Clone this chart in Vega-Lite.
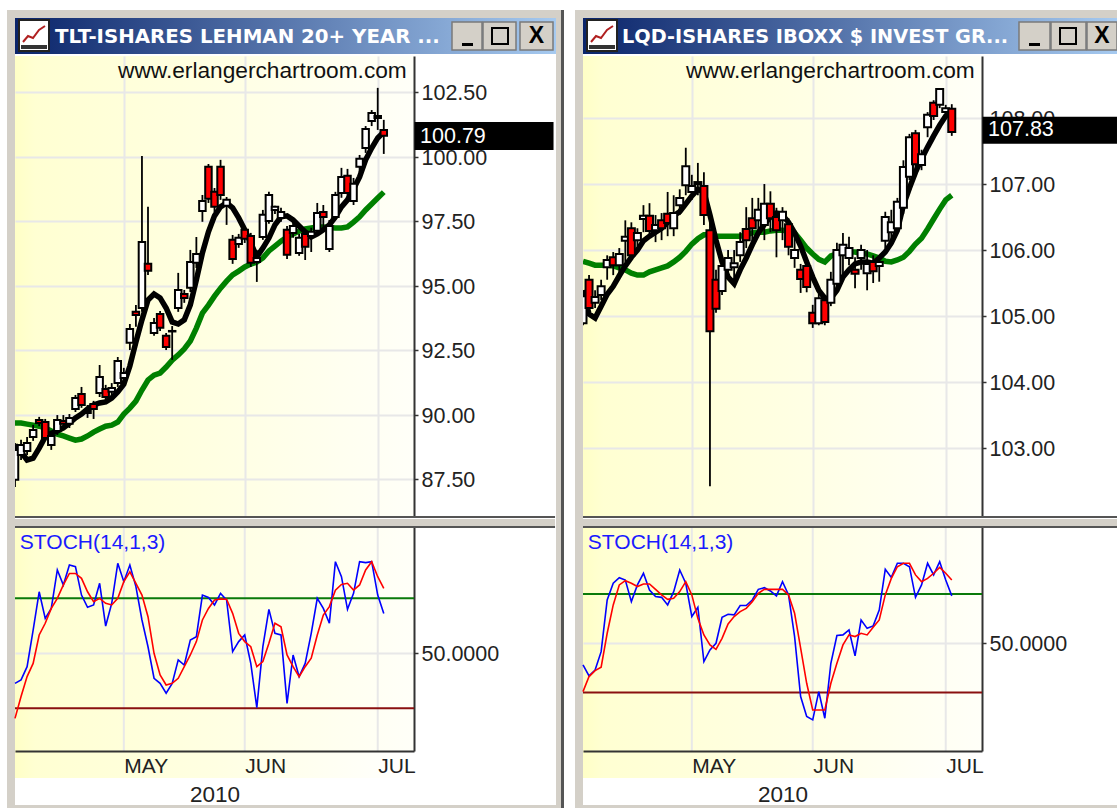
{"$schema":"https://vega.github.io/schema/vega-lite/v6.json","padding":{"left":7,"top":10,"right":0,"bottom":0},"background":"white","bounds":"flush","columns":2,"spacing":{"row":2,"column":28},
"config":{"view":{"stroke":null},"font":"Liberation Sans","text":{"font":"Liberation Sans"},"axis":{"labelFont":"Liberation Sans","titleFont":"Liberation Sans"}},
"datasets":{
"frameL":[{"x0":-8,"x1":0,"y0":-8,"y1":790},{"x0":-8,"x1":546,"y0":-8,"y1":0},{"x0":541,"x1":546,"y0":-8,"y1":790},{"x0":-8,"x1":546,"y0":787,"y1":790}],
"frameR":[{"x0":-8,"x1":0,"y0":-8,"y1":790},{"x0":-8,"x1":534,"y0":-8,"y1":0},{"x0":-8,"x1":534,"y0":787,"y1":790}],
"icon":[{"x":8,"y":24},{"x":13,"y":18},{"x":18,"y":20},{"x":24,"y":12},{"x":30,"y":8}],
"months":[{"n":18},{"n":38},{"n":60}],
"tlt":[
{"n":0,"o":87.47,"c":88.63,"h":88.90,"l":87.19,"f":88.82,"s":89.67},
{"n":1,"o":88.43,"c":88.82,"h":89.02,"l":88.24,"f":88.55,"s":89.67},
{"n":2,"o":88.59,"c":88.90,"h":89.13,"l":88.43,"f":88.24,"s":89.63},
{"n":3,"o":89.13,"c":89.40,"h":89.60,"l":88.98,"f":88.31,"s":89.59},
{"n":4,"o":89.79,"c":89.67,"h":89.91,"l":89.55,"f":88.70,"s":89.55},
{"n":5,"o":89.71,"c":89.09,"h":89.83,"l":88.98,"f":89.13,"s":89.48},
{"n":6,"o":88.82,"c":89.17,"h":89.36,"l":88.63,"f":89.28,"s":89.36},
{"n":7,"o":89.36,"c":89.79,"h":89.98,"l":89.21,"f":89.36,"s":89.24},
{"n":8,"o":89.75,"c":89.64,"h":89.98,"l":89.48,"f":89.48,"s":89.17},
{"n":9,"o":89.64,"c":89.87,"h":90.02,"l":89.48,"f":89.67,"s":89.09},
{"n":10,"o":90.22,"c":90.64,"h":90.76,"l":90.10,"f":89.87,"s":89.01},
{"n":11,"o":90.80,"c":90.37,"h":91.07,"l":90.26,"f":90.02,"s":89.05},
{"n":12,"o":90.14,"c":90.06,"h":90.37,"l":89.87,"f":90.22,"s":89.17},
{"n":13,"o":90.41,"c":90.22,"h":90.53,"l":89.83,"f":90.37,"s":89.32},
{"n":14,"o":90.84,"c":91.46,"h":91.92,"l":90.68,"f":90.45,"s":89.44},
{"n":15,"o":90.99,"c":90.68,"h":91.15,"l":90.57,"f":90.49,"s":89.55},
{"n":16,"o":90.88,"c":91.03,"h":91.22,"l":90.72,"f":90.64,"s":89.59},
{"n":17,"o":91.22,"c":92.08,"h":92.23,"l":91.07,"f":90.88,"s":89.71},
{"n":18,"o":91.42,"c":91.61,"h":91.81,"l":91.26,"f":91.18,"s":90.02},
{"n":19,"o":92.78,"c":93.32,"h":93.51,"l":92.50,"f":91.88,"s":90.25},
{"n":20,"o":93.98,"c":93.86,"h":94.25,"l":93.40,"f":92.81,"s":90.52},
{"n":21,"o":94.13,"c":96.69,"h":100.02,"l":93.98,"f":93.67,"s":90.95},
{"n":22,"o":95.84,"c":95.57,"h":98.05,"l":95.41,"f":94.44,"s":91.34},
{"n":23,"o":93.16,"c":93.55,"h":93.74,"l":93.05,"f":94.67,"s":91.53},
{"n":24,"o":93.90,"c":93.36,"h":94.01,"l":93.24,"f":94.52,"s":91.61},
{"n":25,"o":93.05,"c":92.62,"h":93.16,"l":92.50,"f":94.13,"s":91.84},
{"n":26,"o":93.24,"c":93.22,"h":93.43,"l":92.12,"f":93.59,"s":92.11},
{"n":27,"o":94.13,"c":94.83,"h":95.49,"l":93.98,"f":93.51,"s":92.31},
{"n":28,"o":94.67,"c":94.52,"h":94.83,"l":94.33,"f":93.67,"s":92.54},
{"n":29,"o":94.91,"c":95.91,"h":96.38,"l":94.75,"f":94.25,"s":92.85},
{"n":30,"o":95.88,"c":96.22,"h":96.88,"l":95.68,"f":95.22,"s":93.35},
{"n":31,"o":97.89,"c":98.28,"h":98.51,"l":97.47,"f":96.26,"s":93.93},
{"n":32,"o":99.60,"c":98.36,"h":99.71,"l":98.20,"f":97.08,"s":94.24},
{"n":33,"o":98.63,"c":98.05,"h":98.78,"l":97.85,"f":97.70,"s":94.59},
{"n":34,"o":99.60,"c":98.51,"h":99.87,"l":98.32,"f":98.05,"s":94.90},
{"n":35,"o":98.09,"c":98.32,"h":98.43,"l":97.35,"f":98.20,"s":95.17},
{"n":36,"o":96.77,"c":96.03,"h":96.96,"l":95.84,"f":98.01,"s":95.41},
{"n":37,"o":96.61,"c":96.85,"h":97.00,"l":96.46,"f":97.62,"s":95.56},
{"n":38,"o":97.16,"c":96.81,"h":97.31,"l":96.65,"f":97.16,"s":95.72},
{"n":39,"o":96.92,"c":95.88,"h":97.04,"l":95.72,"f":96.65,"s":95.83},
{"n":40,"o":95.91,"c":96.07,"h":96.38,"l":95.14,"f":96.11,"s":95.91},
{"n":41,"o":96.88,"c":97.74,"h":97.93,"l":96.77,"f":96.45,"s":96.07},
{"n":42,"o":97.50,"c":98.51,"h":98.63,"l":97.39,"f":96.84,"s":96.34},
{"n":43,"o":97.93,"c":98.05,"h":98.09,"l":97.77,"f":97.35,"s":96.53},
{"n":44,"o":97.62,"c":97.85,"h":98.01,"l":97.47,"f":97.66,"s":96.72},
{"n":45,"o":97.16,"c":96.19,"h":97.31,"l":96.03,"f":97.70,"s":96.88},
{"n":46,"o":97.04,"c":97.31,"h":97.47,"l":96.85,"f":97.54,"s":97.00},
{"n":47,"o":96.26,"c":96.85,"h":97.00,"l":96.15,"f":97.31,"s":97.11},
{"n":48,"o":97.00,"c":96.50,"h":97.16,"l":95.99,"f":97.08,"s":97.19},
{"n":49,"o":96.92,"c":97.08,"h":97.24,"l":96.30,"f":96.88,"s":97.23},
{"n":50,"o":97.12,"c":97.81,"h":98.20,"l":96.96,"f":97.00,"s":97.27},
{"n":51,"o":97.85,"c":97.66,"h":98.12,"l":97.16,"f":97.16,"s":97.27},
{"n":52,"o":96.42,"c":97.31,"h":97.54,"l":96.30,"f":97.35,"s":97.25},
{"n":53,"o":97.66,"c":98.51,"h":98.63,"l":97.54,"f":97.66,"s":97.23},
{"n":54,"o":98.59,"c":99.21,"h":99.56,"l":98.40,"f":98.05,"s":97.23},
{"n":55,"o":99.25,"c":98.59,"h":99.52,"l":98.43,"f":98.32,"s":97.27},
{"n":56,"o":98.28,"c":98.94,"h":99.17,"l":98.12,"f":98.74,"s":97.46},
{"n":57,"o":99.60,"c":99.91,"h":100.06,"l":99.40,"f":99.21,"s":97.66},
{"n":58,"o":100.33,"c":101.07,"h":101.18,"l":100.14,"f":99.87,"s":97.93},
{"n":59,"o":101.38,"c":101.69,"h":101.80,"l":101.18,"f":100.33,"s":98.16},
{"n":60,"o":101.49,"c":101.57,"h":102.66,"l":101.03,"f":100.72,"s":98.39},
{"n":61,"o":101.03,"c":100.80,"h":101.42,"l":100.10,"f":100.95,"s":98.62}],
"lqd":[
{"n":0,"o":104.89,"c":105.30,"h":105.39,"l":104.86,"f":105.39,"s":105.83},
{"n":1,"o":105.55,"c":105.12,"h":105.62,"l":105.06,"f":105.03,"s":105.80},
{"n":2,"o":105.20,"c":105.29,"h":105.39,"l":105.12,"f":104.97,"s":105.77},
{"n":3,"o":105.32,"c":105.45,"h":105.55,"l":105.24,"f":105.15,"s":105.77},
{"n":4,"o":105.74,"c":105.85,"h":105.92,"l":105.55,"f":105.33,"s":105.77},
{"n":5,"o":105.89,"c":105.77,"h":105.97,"l":105.62,"f":105.45,"s":105.76},
{"n":6,"o":105.77,"c":105.94,"h":106.03,"l":105.62,"f":105.61,"s":105.73},
{"n":7,"o":106.14,"c":106.20,"h":106.45,"l":105.82,"f":105.76,"s":105.70},
{"n":8,"o":106.33,"c":105.92,"h":106.42,"l":105.88,"f":105.89,"s":105.65},
{"n":9,"o":106.15,"c":106.26,"h":106.33,"l":106.06,"f":106.00,"s":105.62},
{"n":10,"o":106.47,"c":106.52,"h":106.68,"l":106.27,"f":106.14,"s":105.62},
{"n":11,"o":106.52,"c":106.29,"h":106.71,"l":106.23,"f":106.21,"s":105.67},
{"n":12,"o":106.30,"c":106.38,"h":106.53,"l":106.12,"f":106.27,"s":105.70},
{"n":13,"o":106.45,"c":106.33,"h":106.56,"l":106.15,"f":106.33,"s":105.73},
{"n":14,"o":106.55,"c":106.41,"h":106.88,"l":106.21,"f":106.42,"s":105.76},
{"n":15,"o":106.33,"c":106.56,"h":106.83,"l":106.21,"f":106.52,"s":105.82},
{"n":16,"o":106.68,"c":106.79,"h":106.92,"l":106.53,"f":106.58,"s":105.89},
{"n":17,"o":106.98,"c":107.27,"h":107.55,"l":106.83,"f":106.70,"s":105.98},
{"n":18,"o":106.88,"c":106.97,"h":107.14,"l":106.76,"f":106.82,"s":106.09},
{"n":19,"o":107.03,"c":107.00,"h":107.32,"l":106.83,"f":106.92,"s":106.17},
{"n":20,"o":106.97,"c":106.53,"h":107.18,"l":106.38,"f":106.88,"s":106.23},
{"n":21,"o":106.30,"c":104.77,"h":106.45,"l":102.42,"f":106.53,"s":106.23},
{"n":22,"o":105.55,"c":105.11,"h":105.70,"l":105.05,"f":106.15,"s":106.21},
{"n":23,"o":105.38,"c":105.76,"h":105.92,"l":105.32,"f":105.82,"s":106.21},
{"n":24,"o":105.70,"c":105.88,"h":106.00,"l":105.59,"f":105.59,"s":106.21},
{"n":25,"o":105.74,"c":105.80,"h":106.00,"l":105.47,"f":105.49,"s":106.21},
{"n":26,"o":105.92,"c":106.12,"h":106.27,"l":105.82,"f":105.70,"s":106.21},
{"n":27,"o":106.32,"c":106.15,"h":106.65,"l":106.03,"f":105.88,"s":106.23},
{"n":28,"o":106.48,"c":106.33,"h":106.79,"l":106.11,"f":106.08,"s":106.26},
{"n":29,"o":106.45,"c":106.61,"h":106.79,"l":106.23,"f":106.26,"s":106.27},
{"n":30,"o":106.38,"c":106.70,"h":107.00,"l":106.15,"f":106.39,"s":106.27},
{"n":31,"o":106.70,"c":106.48,"h":106.89,"l":106.27,"f":106.50,"s":106.29},
{"n":32,"o":106.50,"c":106.30,"h":106.64,"l":105.89,"f":106.56,"s":106.30},
{"n":33,"o":106.45,"c":106.58,"h":106.65,"l":106.15,"f":106.53,"s":106.30},
{"n":34,"o":106.39,"c":106.05,"h":106.48,"l":105.92,"f":106.42,"s":106.29},
{"n":35,"o":105.88,"c":106.00,"h":106.27,"l":105.73,"f":106.26,"s":106.26},
{"n":36,"o":105.70,"c":105.56,"h":105.79,"l":105.35,"f":106.06,"s":106.15},
{"n":37,"o":105.76,"c":105.44,"h":105.85,"l":105.36,"f":105.82,"s":106.03},
{"n":38,"o":105.05,"c":104.89,"h":105.17,"l":104.82,"f":105.59,"s":105.94},
{"n":39,"o":104.89,"c":105.27,"h":105.39,"l":104.86,"f":105.39,"s":105.86},
{"n":40,"o":105.24,"c":104.91,"h":105.32,"l":104.86,"f":105.27,"s":105.82},
{"n":41,"o":105.20,"c":105.55,"h":105.67,"l":105.15,"f":105.27,"s":105.91},
{"n":42,"o":105.49,"c":106.00,"h":106.11,"l":105.42,"f":105.39,"s":105.94},
{"n":43,"o":105.92,"c":106.08,"h":106.26,"l":105.62,"f":105.59,"s":105.95},
{"n":44,"o":105.88,"c":106.03,"h":106.20,"l":105.77,"f":105.70,"s":105.97},
{"n":45,"o":105.70,"c":105.64,"h":105.89,"l":105.42,"f":105.79,"s":105.97},
{"n":46,"o":105.88,"c":106.00,"h":106.08,"l":105.70,"f":105.82,"s":105.95},
{"n":47,"o":105.65,"c":105.79,"h":106.00,"l":105.39,"f":105.82,"s":105.94},
{"n":48,"o":105.82,"c":105.68,"h":105.92,"l":105.50,"f":105.80,"s":105.91},
{"n":49,"o":105.76,"c":105.82,"h":105.88,"l":105.52,"f":105.88,"s":105.88},
{"n":50,"o":106.14,"c":106.50,"h":106.58,"l":106.03,"f":105.97,"s":105.83},
{"n":51,"o":106.27,"c":106.42,"h":106.61,"l":106.06,"f":106.11,"s":105.82},
{"n":52,"o":106.33,"c":106.73,"h":106.79,"l":106.27,"f":106.30,"s":105.85},
{"n":53,"o":106.64,"c":107.26,"h":107.36,"l":106.55,"f":106.68,"s":105.89},
{"n":54,"o":107.11,"c":107.71,"h":107.76,"l":107.06,"f":106.94,"s":105.98},
{"n":55,"o":107.77,"c":107.30,"h":107.82,"l":107.24,"f":107.18,"s":106.09},
{"n":56,"o":107.29,"c":107.45,"h":107.52,"l":107.21,"f":107.38,"s":106.18},
{"n":57,"o":107.86,"c":108.05,"h":108.09,"l":107.71,"f":107.56,"s":106.32},
{"n":58,"o":108.23,"c":108.03,"h":108.27,"l":107.97,"f":107.73,"s":106.47},
{"n":59,"o":108.20,"c":108.44,"h":108.44,"l":108.15,"f":107.89,"s":106.62},
{"n":60,"o":108.09,"c":108.15,"h":108.20,"l":108.00,"f":108.03,"s":106.76},
{"n":61,"o":108.14,"c":107.79,"h":108.21,"l":107.73,"f":108.12,"s":106.83}],
"stochL":[
{"n":0,"k":33.6,"d":14.5},{"n":1,"k":35.5,"d":26.4},{"n":2,"k":42.7,"d":37.3},{"n":3,"k":62.7,"d":44.5},{"n":4,"k":83.6,"d":60},{"n":5,"k":69.1,"d":66.4},{"n":6,"k":74.5,"d":74.5},{"n":7,"k":95.5,"d":80},{"n":8,"k":87.3,"d":87.3},{"n":9,"k":98.2,"d":93.6},{"n":10,"k":97.3,"d":93.6},{"n":11,"k":81.8,"d":90.9},{"n":12,"k":75.1,"d":83.6},{"n":13,"k":76.4,"d":78.2},{"n":14,"k":88.2,"d":80},{"n":15,"k":64.9,"d":77.3},{"n":16,"k":77.3,"d":76.4},{"n":17,"k":99.1,"d":80},{"n":18,"k":89.1,"d":89.1},{"n":19,"k":98.2,"d":94.5},{"n":20,"k":86.4,"d":88.2},{"n":21,"k":68.2,"d":81.8},{"n":22,"k":53.6,"d":70},{"n":23,"k":36.4,"d":50},{"n":24,"k":33.6,"d":38.2},{"n":25,"k":28.2,"d":32.7},{"n":26,"k":33.6,"d":33.6},{"n":27,"k":46.4,"d":36.4},{"n":28,"k":43.6,"d":42.7},{"n":29,"k":57.3,"d":49.1},{"n":30,"k":59.1,"d":56.4},{"n":31,"k":81.8,"d":68.2},{"n":32,"k":80.5,"d":74.5},{"n":33,"k":76.4,"d":79.1},{"n":34,"k":82.7,"d":79.6},{"n":35,"k":79.1,"d":79.5},{"n":36,"k":50.9,"d":71.8},{"n":37,"k":56.4,"d":60.9},{"n":38,"k":60,"d":56.4},{"n":39,"k":44.5,"d":53.6},{"n":40,"k":20.4,"d":42.7},{"n":41,"k":53.6,"d":45.5},{"n":42,"k":74,"d":55.5},{"n":43,"k":60.9,"d":66.4},{"n":44,"k":60,"d":64.5},{"n":45,"k":22.7,"d":49.1},{"n":46,"k":49.1,"d":42.7},{"n":47,"k":37.3,"d":37.3},{"n":48,"k":44.5,"d":42.7},{"n":49,"k":60.9,"d":47.3},{"n":50,"k":80,"d":60},{"n":51,"k":74.5,"d":70.9},{"n":52,"k":66.4,"d":75.5},{"n":53,"k":100,"d":84.5},{"n":54,"k":91.8,"d":87.6},{"n":55,"k":74,"d":88.2},{"n":56,"k":82.7,"d":84.5},{"n":57,"k":100,"d":87.3},{"n":58,"k":99.5,"d":95.5},{"n":59,"k":100,"d":100},{"n":60,"k":81.8,"d":91.8},{"n":61,"k":71.8,"d":85.5}],
"stochR":[
{"n":0,"k":36.8,"d":20.5},{"n":1,"k":30.1,"d":29.7},{"n":2,"k":33.7,"d":33.3},{"n":3,"k":44.9,"d":35.4},{"n":4,"k":76.4,"d":56.1},{"n":5,"k":86.6,"d":73.4},{"n":6,"k":90,"d":85.6},{"n":7,"k":88.6,"d":88.2},{"n":8,"k":75.4,"d":86.6},{"n":9,"k":85.6,"d":84.6},{"n":10,"k":92.7,"d":86.2},{"n":11,"k":82.5,"d":86.2},{"n":12,"k":78.5,"d":82.9},{"n":13,"k":78,"d":79.5},{"n":14,"k":73.4,"d":76.8},{"n":15,"k":81.5,"d":77.4},{"n":16,"k":94.7,"d":81.5},{"n":17,"k":86.6,"d":87.6},{"n":18,"k":66.3,"d":79.5},{"n":19,"k":72,"d":65.2},{"n":20,"k":38.8,"d":55.1},{"n":21,"k":45.9,"d":49},{"n":22,"k":50,"d":46.3},{"n":23,"k":65.9,"d":53},{"n":24,"k":67.7,"d":61.8},{"n":25,"k":67.3,"d":66.3},{"n":26,"k":73,"d":69.3},{"n":27,"k":73,"d":71.3},{"n":28,"k":76.4,"d":75.4},{"n":29,"k":82.9,"d":80.5},{"n":30,"k":83.9,"d":82.9},{"n":31,"k":81.9,"d":82.9},{"n":32,"k":78.9,"d":82.9},{"n":33,"k":87.6,"d":82.9},{"n":34,"k":79.5,"d":79.5},{"n":35,"k":54.1,"d":68.3},{"n":36,"k":17.5,"d":47},{"n":37,"k":5.3,"d":25.6},{"n":38,"k":3.3,"d":9.3},{"n":39,"k":20.5,"d":9.3},{"n":40,"k":4.3,"d":9.3},{"n":41,"k":37.8,"d":25.6},{"n":42,"k":54.7,"d":37.8},{"n":43,"k":55.1,"d":49},{"n":44,"k":58.1,"d":55.1},{"n":45,"k":42.3,"d":54.1},{"n":46,"k":64.2,"d":56.1},{"n":47,"k":59.1,"d":55.1},{"n":48,"k":60.6,"d":59.8},{"n":49,"k":70.3,"d":64.2},{"n":50,"k":95.1,"d":79.5},{"n":51,"k":90.2,"d":89.6},{"n":52,"k":98.8,"d":96.7},{"n":53,"k":98.8,"d":98.8},{"n":54,"k":96.7,"d":98.8},{"n":55,"k":78,"d":91.7},{"n":56,"k":85.6,"d":87.6},{"n":57,"k":98.8,"d":89.6},{"n":58,"k":91.7,"d":92.7},{"n":59,"k":99.8,"d":96.3},{"n":60,"k":88.6,"d":92.7},{"n":61,"k":78.9,"d":88.6}]
},
"concat":[
{"width":540,"height":36,
 "encoding":{"x":{"field":"x0","type":"quantitative","scale":{"domain":[0,540],"nice":false,"zero":false},"axis":null},"x2":{"field":"x1"},"y":{"field":"y0","type":"quantitative","scale":{"domain":[0,36],"reverse":true,"nice":false,"zero":false},"axis":null},"y2":{"field":"y1"}},
 "layer":[
 {"data":{"name":"frameL"},"mark":{"type":"rect","color":"#d4d0c8"}},
 {"data":{"values":[{"x0":546,"x1":549,"y0":-8,"y1":790}]},"mark":{"type":"rect","color":"#555555"}},
 {"data":{"values":[{"x0":0,"x1":541,"y0":0,"y1":36}]},"mark":{"type":"rect","color":{"gradient":"linear","x1":0,"x2":1,"y1":0,"y2":0,"stops":[{"offset":0,"color":"#0a246a"},{"offset":1,"color":"#a6caf0"}]}}},
 {"data":{"values":[{"x0":4,"x1":34,"y0":2,"y1":33}]},"mark":{"type":"rect","color":"white","stroke":"#222222","strokeWidth":2}},
 {"data":{"values":[{"x0":6,"x1":32,"y0":27,"y1":31}]},"mark":{"type":"rect","color":"#333333"}},
 {"data":{"name":"icon"},"mark":{"type":"line","color":"#b02020","strokeWidth":2},"encoding":{"x":{"field":"x","type":"quantitative"},"y":{"field":"y","type":"quantitative"},"x2":null,"y2":null}},
 {"data":{"values":[{"x0":40,"y0":18.5,"t":"TLT-ISHARES LEHMAN 20+ YEAR ..."}]},"mark":{"type":"text","align":"left","baseline":"middle","font":"DejaVu Sans","fontWeight":"bold","fontSize":19.8,"color":"white"},"encoding":{"text":{"field":"t"},"x2":null,"y2":null}},
 {"data":{"values":[{"x0":437,"x1":467,"y0":4,"y1":32},{"x0":468,"x1":501,"y0":4,"y1":32},{"x0":505,"x1":538,"y0":4,"y1":32}]},"mark":{"type":"rect","color":"#d4d0c8","stroke":"#7a7a7a","strokeWidth":1.5}},
 {"data":{"values":[{"x0":447,"x1":458,"y0":25,"y1":28}]},"mark":{"type":"rect","color":"black"}},
 {"data":{"values":[{"x0":477,"x1":493,"y0":10,"y1":26}]},"mark":{"type":"rect","color":"#d4d0c8","stroke":"black","strokeWidth":2}},
 {"data":{"values":[{"x0":521.5,"y0":18,"t":"X"}]},"mark":{"type":"text","align":"center","baseline":"middle","fontSize":23,"fontWeight":"bold","color":"black"},"encoding":{"text":{"field":"t"},"x2":null,"y2":null}}
 ]},
{"width":534,"height":36,
 "encoding":{"x":{"field":"x0","type":"quantitative","scale":{"domain":[0,534],"nice":false,"zero":false},"axis":null},"x2":{"field":"x1"},"y":{"field":"y0","type":"quantitative","scale":{"domain":[0,36],"reverse":true,"nice":false,"zero":false},"axis":null},"y2":{"field":"y1"}},
 "layer":[
 {"data":{"name":"frameR"},"mark":{"type":"rect","color":"#d4d0c8"}},
 {"data":{"values":[{"x0":0,"x1":534,"y0":0,"y1":36}]},"mark":{"type":"rect","color":{"gradient":"linear","x1":0,"x2":1,"y1":0,"y2":0,"stops":[{"offset":0,"color":"#0a246a"},{"offset":1,"color":"#a6caf0"}]}}},
 {"data":{"values":[{"x0":4,"x1":34,"y0":2,"y1":33}]},"mark":{"type":"rect","color":"white","stroke":"#222222","strokeWidth":2}},
 {"data":{"values":[{"x0":6,"x1":32,"y0":27,"y1":31}]},"mark":{"type":"rect","color":"#333333"}},
 {"data":{"name":"icon"},"mark":{"type":"line","color":"#b02020","strokeWidth":2},"encoding":{"x":{"field":"x","type":"quantitative"},"y":{"field":"y","type":"quantitative"},"x2":null,"y2":null}},
 {"data":{"values":[{"x0":39,"y0":18.5,"t":"LQD-ISHARES IBOXX $ INVEST GR..."}]},"mark":{"type":"text","align":"left","baseline":"middle","font":"DejaVu Sans","fontWeight":"bold","fontSize":19.3,"color":"white"},"encoding":{"text":{"field":"t"},"x2":null,"y2":null}},
 {"data":{"values":[{"x0":436,"x1":467,"y0":4,"y1":32},{"x0":468,"x1":503,"y0":4,"y1":32},{"x0":504,"x1":534,"y0":4,"y1":32}]},"mark":{"type":"rect","color":"#d4d0c8","stroke":"#7a7a7a","strokeWidth":1.5}},
 {"data":{"values":[{"x0":446,"x1":457,"y0":25,"y1":28}]},"mark":{"type":"rect","color":"black"}},
 {"data":{"values":[{"x0":477,"x1":493,"y0":10,"y1":26}]},"mark":{"type":"rect","color":"#d4d0c8","stroke":"black","strokeWidth":2}},
 {"data":{"values":[{"x0":519,"y0":18,"t":"X"}]},"mark":{"type":"text","align":"center","baseline":"middle","fontSize":23,"fontWeight":"bold","color":"black"},"encoding":{"text":{"field":"t"},"x2":null,"y2":null}}
 ]},
{"width":399,"height":461,"data":{"name":"tlt"},
 "view":{"fill":{"gradient":"linear","x1":0,"x2":1,"y1":0,"y2":0,"stops":[{"offset":0,"color":"#ffffc6"},{"offset":0.05,"color":"#ffffd2"},{"offset":0.5,"color":"#ffffe2"},{"offset":1,"color":"#fffff8"}]},"stroke":null},
 "encoding":{"x":{"field":"n","type":"quantitative","title":null,"scale":{"domain":[0,66],"nice":false,"zero":false,"padding":0},"axis":{"values":[18,38,60],"grid":true,"gridColor":"#e8e8e8","gridWidth":2,"labels":false,"ticks":false,"domain":false,"title":null}}},
 "layer":[
 {"mark":{"type":"line","color":"#008000","strokeWidth":5.5,"clip":true},"encoding":{"y":{"field":"s","type":"quantitative","title":null,"scale":{"domain":[86.03,103.895],"nice":false,"zero":false},"axis":{"orient":"right","values":[87.5,90,92.5,95,97.5,100,102.5],"format":".2f","title":null,"grid":true,"gridColor":"#e8e8e8","gridWidth":2,"domainColor":"#333333","domainWidth":2,"tickColor":"#333333","tickWidth":1.5,"tickSize":4,"labelPadding":3,"labelFontSize":21.5,"labelColor":"#222222","labelOffset":1.5}}}},
 {"mark":{"type":"line","color":"black","strokeWidth":5.5,"clip":true},"encoding":{"y":{"field":"f","type":"quantitative","title":null}}},
 {"mark":{"type":"rule","color":"black","strokeWidth":1.8,"clip":true},"encoding":{"y":{"field":"l","type":"quantitative","title":null},"y2":{"field":"h"}}},
 {"mark":{"type":"bar","size":6.5,"stroke":"black","strokeWidth":2,"clip":true},"encoding":{"y":{"field":"o","type":"quantitative","title":null},"y2":{"field":"c"},"color":{"condition":{"test":"datum.c>=datum.o","value":"white"},"value":"#ff0000"}}},
 {"data":{"values":[{"t":"www.erlangerchartroom.com","n":64.8,"y":103.31}]},"mark":{"type":"text","align":"right","baseline":"middle","fontSize":22.7,"color":"#111111"},"encoding":{"text":{"field":"t"},"y":{"field":"y","type":"quantitative","title":null}}},
 {"data":{"values":[{"n":66.1,"e":89.08,"y":101.34,"y1":100.25}]},"mark":{"type":"rect","color":"black"},"encoding":{"x2":{"field":"e"},"y":{"field":"y","type":"quantitative","title":null},"y2":{"field":"y1"}}},
 {"data":{"values":[{"t":"100.79","n":67,"y":100.77}]},"mark":{"type":"text","align":"left","baseline":"middle","fontSize":21.5,"color":"white"},"encoding":{"text":{"field":"t"},"y":{"field":"y","type":"quantitative","title":null}}},
 {"data":{"values":[{"n":0,"e":89.33,"y":86.03}]},"mark":{"type":"rule","color":"#555555","strokeWidth":2},"encoding":{"x2":{"field":"e"},"y":{"field":"y","type":"quantitative","title":null}}}
 ]},
{"width":399,"height":461,"data":{"name":"lqd"},
 "view":{"fill":{"gradient":"linear","x1":0,"x2":1,"y1":0,"y2":0,"stops":[{"offset":0,"color":"#ffffc6"},{"offset":0.05,"color":"#ffffd2"},{"offset":0.5,"color":"#ffffe2"},{"offset":1,"color":"#fffff8"}]},"stroke":null},
 "encoding":{"x":{"field":"n","type":"quantitative","title":null,"scale":{"domain":[0,66],"nice":false,"zero":false,"padding":0},"axis":{"values":[18,38,60],"grid":true,"gridColor":"#e8e8e8","gridWidth":2,"labels":false,"ticks":false,"domain":false,"title":null}}},
 "layer":[
 {"mark":{"type":"line","color":"#008000","strokeWidth":5.5,"clip":true},"encoding":{"y":{"field":"s","type":"quantitative","title":null,"scale":{"domain":[101.955,108.94],"nice":false,"zero":false},"axis":{"orient":"right","values":[103,104,105,106,107,108],"format":".2f","title":null,"grid":true,"gridColor":"#e8e8e8","gridWidth":2,"domainColor":"#333333","domainWidth":2,"tickColor":"#333333","tickWidth":1.5,"tickSize":4,"labelPadding":3,"labelFontSize":21.5,"labelColor":"#222222","labelOffset":1.5}}}},
 {"mark":{"type":"line","color":"black","strokeWidth":5.5,"clip":true},"encoding":{"y":{"field":"f","type":"quantitative","title":null}}},
 {"mark":{"type":"rule","color":"black","strokeWidth":1.8,"clip":true},"encoding":{"y":{"field":"l","type":"quantitative","title":null},"y2":{"field":"h"}}},
 {"mark":{"type":"bar","size":7,"stroke":"black","strokeWidth":2,"clip":true},"encoding":{"y":{"field":"o","type":"quantitative","title":null},"y2":{"field":"c"},"color":{"condition":{"test":"datum.c>=datum.o","value":"white"},"value":"#ff0000"}}},
 {"data":{"values":[{"t":"www.erlangerchartroom.com","n":64.8,"y":108.71}]},"mark":{"type":"text","align":"right","baseline":"middle","fontSize":22.7,"color":"#111111"},"encoding":{"text":{"field":"t"},"y":{"field":"y","type":"quantitative","title":null}}},
 {"data":{"values":[{"n":66.1,"e":88.33,"y":108.02,"y1":107.61}]},"mark":{"type":"rect","color":"black"},"encoding":{"x2":{"field":"e"},"y":{"field":"y","type":"quantitative","title":null},"y2":{"field":"y1"}}},
 {"data":{"values":[{"t":"107.83","n":67,"y":107.82}]},"mark":{"type":"text","align":"left","baseline":"middle","fontSize":21.5,"color":"white"},"encoding":{"text":{"field":"t"},"y":{"field":"y","type":"quantitative","title":null}}},
 {"data":{"values":[{"n":0,"e":88.33,"y":101.955}]},"mark":{"type":"rule","color":"#555555","strokeWidth":2},"encoding":{"x2":{"field":"e"},"y":{"field":"y","type":"quantitative","title":null}}}
 ]},
{"width":399,"height":232,"data":{"name":"stochL"},
 "view":{"fill":{"gradient":"linear","x1":0,"x2":1,"y1":0,"y2":0,"stops":[{"offset":0,"color":"#ffffc6"},{"offset":0.05,"color":"#ffffd2"},{"offset":0.5,"color":"#ffffe2"},{"offset":1,"color":"#fffff8"}]},"stroke":null},
 "encoding":{"x":{"field":"n","type":"quantitative","title":"2010","scale":{"domain":[0,66],"nice":false,"zero":false},"axis":{"values":[18,38,60],"labelExpr":"datum.value==18?'MAY':datum.value==38?'JUN':'JUL'","labelAlign":"left","labelDx":-3,"labelPadding":4,"labelFontSize":21,"labelColor":"#222222","labelFlush":false,"labelOverlap":false,"grid":false,"ticks":false,"domainColor":"#333333","domainWidth":2,"title":"2010","titleFontSize":22.5,"titleFontWeight":"normal","titleColor":"#222222","titlePadding":7,"zindex":1}}},
 "layer":[
 {"data":{"name":"months"},"mark":{"type":"rule","color":"#e8e8e8","strokeWidth":2}},
 {"data":{"values":[{"n":0,"v":80},{"n":66,"v":80}]},"mark":{"type":"line","color":"#0a7a0a","strokeWidth":2},"encoding":{"y":{"field":"v","type":"quantitative","title":null,"scale":{"domain":[-3.3,123.3],"nice":false,"zero":false},"axis":{"orient":"right","values":[50],"format":".4f","title":null,"grid":true,"gridColor":"#e8e8e8","gridWidth":2,"domainColor":"#333333","domainWidth":2,"tickColor":"#333333","tickWidth":1.5,"tickSize":4,"labelPadding":3,"labelFontSize":21.5,"labelColor":"#222222","labelOffset":1}}}},
 {"data":{"values":[{"n":0,"v":20},{"n":66,"v":20}]},"mark":{"type":"line","color":"#8a1010","strokeWidth":2},"encoding":{"y":{"field":"v","type":"quantitative","title":null}}},
 {"mark":{"type":"line","color":"#0000ff","strokeWidth":1.6},"encoding":{"y":{"field":"k","type":"quantitative","title":null}}},
 {"mark":{"type":"line","color":"#ff0000","strokeWidth":1.6},"encoding":{"y":{"field":"d","type":"quantitative","title":null}}},
 {"data":{"values":[{"n":0,"e":66,"y":-3.3,"y1":-18}]},"mark":{"type":"rect","color":{"gradient":"linear","x1":0,"x2":1,"y1":0,"y2":0,"stops":[{"offset":0,"color":"#ffffc6"},{"offset":0.05,"color":"#ffffd2"},{"offset":0.5,"color":"#ffffe2"},{"offset":1,"color":"#ffffff"}]}},"encoding":{"x2":{"field":"e"},"y":{"field":"y","type":"quantitative","title":null},"y2":{"field":"y1"}}},
 {"data":{"values":[{"n":0,"e":89.33,"y":123.3,"y1":118.4}]},"mark":{"type":"rect","color":"#d4d0c8"},"encoding":{"x2":{"field":"e"},"y":{"field":"y","type":"quantitative","title":null},"y2":{"field":"y1"}}},
 {"data":{"values":[{"n":0,"e":89.33,"y":118.9}]},"mark":{"type":"rule","color":"#555555","strokeWidth":2},"encoding":{"x2":{"field":"e"},"y":{"field":"y","type":"quantitative","title":null}}},
 {"data":{"values":[{"t":"STOCH(14,1,3)","n":0.8,"y":110}]},"mark":{"type":"text","align":"left","baseline":"middle","fontSize":21,"color":"#1a1aff"},"encoding":{"text":{"field":"t"},"y":{"field":"y","type":"quantitative","title":null}}}
 ]},
{"width":399,"height":232,"data":{"name":"stochR"},
 "view":{"fill":{"gradient":"linear","x1":0,"x2":1,"y1":0,"y2":0,"stops":[{"offset":0,"color":"#ffffc6"},{"offset":0.05,"color":"#ffffd2"},{"offset":0.5,"color":"#ffffe2"},{"offset":1,"color":"#fffff8"}]},"stroke":null},
 "encoding":{"x":{"field":"n","type":"quantitative","title":"2010","scale":{"domain":[0,66],"nice":false,"zero":false},"axis":{"values":[18,38,60],"labelExpr":"datum.value==18?'MAY':datum.value==38?'JUN':'JUL'","labelAlign":"left","labelDx":-3,"labelPadding":4,"labelFontSize":21,"labelColor":"#222222","labelFlush":false,"labelOverlap":false,"grid":false,"ticks":false,"domainColor":"#333333","domainWidth":2,"title":"2010","titleFontSize":22.5,"titleFontWeight":"normal","titleColor":"#222222","titlePadding":7,"zindex":1}}},
 "layer":[
 {"data":{"name":"months"},"mark":{"type":"rule","color":"#e8e8e8","strokeWidth":2}},
 {"data":{"values":[{"n":0,"v":80},{"n":66,"v":80}]},"mark":{"type":"line","color":"#0a7a0a","strokeWidth":2},"encoding":{"y":{"field":"v","type":"quantitative","title":null,"scale":{"domain":[-15.7,125.8],"nice":false,"zero":false},"axis":{"orient":"right","values":[50],"format":".4f","title":null,"grid":true,"gridColor":"#e8e8e8","gridWidth":2,"domainColor":"#333333","domainWidth":2,"tickColor":"#333333","tickWidth":1.5,"tickSize":4,"labelPadding":3,"labelFontSize":21.5,"labelColor":"#222222","labelOffset":1}}}},
 {"data":{"values":[{"n":0,"v":20},{"n":66,"v":20}]},"mark":{"type":"line","color":"#8a1010","strokeWidth":2},"encoding":{"y":{"field":"v","type":"quantitative","title":null}}},
 {"mark":{"type":"line","color":"#0000ff","strokeWidth":1.6},"encoding":{"y":{"field":"k","type":"quantitative","title":null}}},
 {"mark":{"type":"line","color":"#ff0000","strokeWidth":1.6},"encoding":{"y":{"field":"d","type":"quantitative","title":null}}},
 {"data":{"values":[{"n":0,"e":66,"y":-15.7,"y1":-32.2}]},"mark":{"type":"rect","color":{"gradient":"linear","x1":0,"x2":1,"y1":0,"y2":0,"stops":[{"offset":0,"color":"#ffffc6"},{"offset":0.05,"color":"#ffffd2"},{"offset":0.5,"color":"#ffffe2"},{"offset":1,"color":"#ffffff"}]}},"encoding":{"x2":{"field":"e"},"y":{"field":"y","type":"quantitative","title":null},"y2":{"field":"y1"}}},
 {"data":{"values":[{"n":0,"e":88.33,"y":125.8,"y1":120.3}]},"mark":{"type":"rect","color":"#d4d0c8"},"encoding":{"x2":{"field":"e"},"y":{"field":"y","type":"quantitative","title":null},"y2":{"field":"y1"}}},
 {"data":{"values":[{"n":0,"e":88.33,"y":120.9}]},"mark":{"type":"rule","color":"#555555","strokeWidth":2},"encoding":{"x2":{"field":"e"},"y":{"field":"y","type":"quantitative","title":null}}},
 {"data":{"values":[{"t":"STOCH(14,1,3)","n":0.8,"y":111}]},"mark":{"type":"text","align":"left","baseline":"middle","fontSize":21,"color":"#1a1aff"},"encoding":{"text":{"field":"t"},"y":{"field":"y","type":"quantitative","title":null}}}
 ]}
]}
